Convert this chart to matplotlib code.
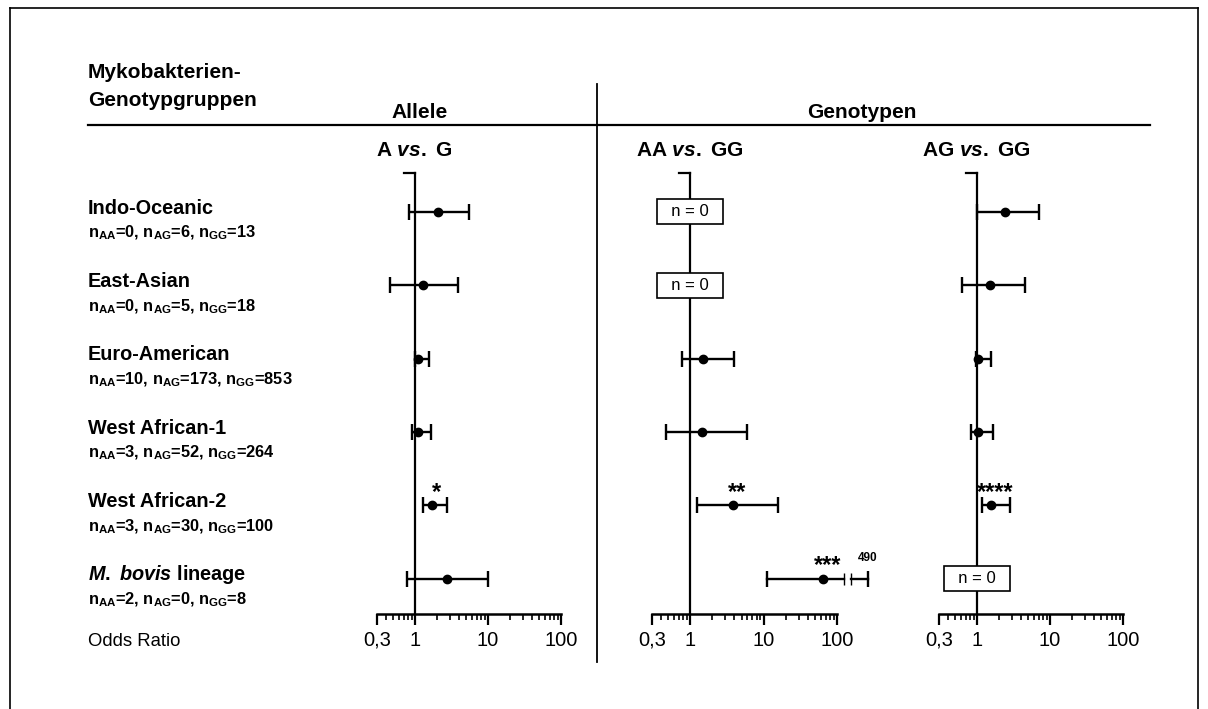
import matplotlib
matplotlib.use('Agg')
import matplotlib.pyplot as plt
from matplotlib.lines import Line2D
import numpy as np

plt.rcParams['font.family'] = ['Liberation Sans', 'DejaVu Sans']
plt.rcParams['mathtext.fontset'] = 'custom'
plt.rcParams['mathtext.rm'] = 'Liberation Sans:bold'
plt.rcParams['mathtext.bf'] = 'Liberation Sans:bold'
plt.rcParams['mathtext.it'] = 'Liberation Sans:bold:italic'
plt.rcParams['mathtext.default'] = 'regular'

# ---------------- data ----------------
groups = ['Indo-Oceanic', 'East-Asian', 'Euro-American', 'West African-1',
          'West African-2', r'$\mathit{M.}$ $\mathit{bovis}$ lineage']
n_AA = [0, 0, 10, 3, 3, 2]
n_AG = [6, 5, 173, 52, 30, 0]
n_GG = [13, 18, 853, 264, 100, 8]

nan = np.nan
# Allele A vs. G
allele_or = [2.07, 1.29, 1.10, 1.10, 1.71, 2.74]
allele_lo = [0.83, 0.45, 1.00, 0.91, 1.29, 0.78]
allele_hi = [5.5, 3.9, 1.55, 1.66, 2.74, 9.9]
allele_sig = ['', '', '', '', '*', '']
# Genotype AA vs. GG
aa_or = [nan, nan, 1.5, 1.45, 3.8, 64.6]
aa_lo = [nan, nan, 0.78, 0.46, 1.24, 11.0]
aa_hi = [nan, nan, 3.9, 5.9, 15.9, 490.0]
aa_sig = ['', '', '', '', '**', '***']
# Genotype AG vs. GG
ag_or = [2.4, 1.5, 1.03, 1.03, 1.55, nan]
ag_lo = [1.0, 0.62, 0.97, 0.83, 1.17, nan]
ag_hi = [7.0, 4.5, 1.55, 1.65, 2.8, nan]
ag_sig = ['', '', '', '', '****', '']

panel_titles = [r'A $\mathit{vs.}$ G', r'AA $\mathit{vs.}$ GG', r'AG $\mathit{vs.}$ GG']
tick_vals = [0.3, 1, 10, 100]
tick_labels = ['0,3', '1', '10', '100']

# ---------------- layout ----------------
W, H = 1208, 709
fig = plt.figure(figsize=(W / 100, H / 100), dpi=100)

def fx(x):
    return x / W

def fy(y):
    return 1 - y / H

def fline(x0, y0, x1, y1, lw=1.5):
    fig.add_artist(Line2D([fx(x0), fx(x1)], [fy(y0), fy(y1)], color='black', lw=lw,
                          transform=fig.transFigure))

# frame
fline(10, 8, 1198, 8, 1.2)
fline(10, 8, 10, 709, 1.2)
fline(1198, 8, 1198, 709, 1.2)

# headers
fig.text(fx(88), fy(73), 'Mykobakterien-', fontsize=15, fontweight='bold', va='center', ha='left')
fig.text(fx(88), fy(100), 'Genotypgruppen', fontsize=15, fontweight='bold', va='center', ha='left')
fig.text(fx(420), fy(112), 'Allele', fontsize=15, fontweight='bold', va='center', ha='center')
fig.text(fx(862), fy(112), 'Genotypen', fontsize=15, fontweight='bold', va='center', ha='center')
fline(88, 125, 1150, 125, 1.6)
fline(597, 84, 597, 662, 1.3)
fig.text(fx(88), fy(642), 'Odds Ratio', fontsize=13.3, va='center', ha='left')

row_top, row_bot = -0.53, 5.48
ax_top_px, ax_bot_px = 173, 614
row0_px, row_step_px = 212, 73.4

# row labels
for i, g in enumerate(groups):
    ypx = row0_px + i * row_step_px
    fig.text(fx(88), fy(ypx - 4), g, fontsize=14.3, fontweight='bold', va='center', ha='left')
    nl = r'n$_{AA}$=%d, n$_{AG}$=%d, n$_{GG}$=%d' % (n_AA[i], n_AG[i], n_GG[i])
    fig.text(fx(88), fy(ypx + 21), nl, fontsize=11.8, fontweight='bold', va='center', ha='left')

panel_x = [(377, 561), (652, 837), (939, 1123)]
title_cx = [414, 690, 976]
panel_data = [(allele_or, allele_lo, allele_hi, allele_sig),
              (aa_or, aa_lo, aa_hi, aa_sig),
              (ag_or, ag_lo, ag_hi, ag_sig)]
minor = [0.4, 0.5, 0.6, 0.7, 0.8, 0.9] + list(range(2, 10)) + list(range(20, 100, 10))

for p, ((x0, x1), (orv, lo, hi, sig), title) in enumerate(zip(panel_x, panel_data, panel_titles)):
    ax = fig.add_axes([fx(x0), fy(ax_bot_px), (x1 - x0) / W, (ax_bot_px - ax_top_px) / H])
    ax.set_xscale('log')
    ax.set_xlim(0.3, 100)
    ax.set_ylim(row_bot, row_top)
    for s in ['top', 'right', 'left']:
        ax.spines[s].set_visible(False)
    ax.spines['bottom'].set_linewidth(1.8)
    ax.set_yticks([])
    ax.set_xticks(tick_vals)
    ax.set_xticklabels(tick_labels, fontsize=14.5)
    ax.set_xticks(minor, minor=True)
    ax.xaxis.set_minor_formatter(plt.NullFormatter())
    ax.tick_params(axis='x', which='major', direction='out', length=8, width=1.6, pad=4)
    ax.tick_params(axis='x', which='minor', direction='out', length=4, width=1.2)
    ax.patch.set_alpha(0)

    # reference line at OR = 1 with small top hook
    ax.plot([1, 1], [row_top, row_bot], color='black', lw=1.6, clip_on=False, zorder=1)
    ax.plot([0.71, 1], [row_top, row_top], color='black', lw=1.6, clip_on=False, zorder=1)

    fig.text(fx(title_cx[p]), fy(150), title, fontsize=15, fontweight='bold',
             va='center', ha='center')

    for i in range(len(orv)):
        if np.isnan(orv[i]):
            ax.text(1, i, '  n = 0  ', ha='center', va='center', fontsize=12, zorder=5,
                    bbox=dict(boxstyle='square,pad=0.3', fc='white', ec='black', lw=1.2))
            continue
        if hi[i] <= 100:
            ax.errorbar([orv[i]], [i], xerr=[[orv[i] - lo[i]], [hi[i] - orv[i]]], fmt='o',
                        color='black', ms=6, elinewidth=1.7, capsize=6, capthick=1.7,
                        clip_on=False, zorder=3)
        else:
            # broken axis for very wide CI
            brk_a, brk_b, end = 124, 155, 263
            ax.plot([lo[i], brk_a], [i, i], color='black', lw=1.7, clip_on=False, zorder=3)
            ax.plot([brk_b, end], [i, i], color='black', lw=1.7, clip_on=False, zorder=3)
            ax.plot([lo[i], end], [i, i], ls='none', marker='|', ms=12, mew=1.7,
                    color='black', clip_on=False, zorder=3)
            ax.plot([brk_a, brk_b], [i, i], ls='none', marker='|', ms=8, mew=1.0,
                    color='black', clip_on=False, zorder=3)
            ax.plot([orv[i]], [i], 'o', color='black', ms=6, clip_on=False, zorder=4)
            ax.annotate('%g' % hi[i], (end, i), xytext=(0, 15), textcoords='offset points',
                        ha='center', va='center', fontsize=8.5, fontweight='bold',
                        annotation_clip=False)
        if sig[i]:
            ax.annotate(sig[i], (orv[i], i), xytext=(3, 9.5), textcoords='offset points',
                        ha='center', va='center', fontsize=17, fontweight='bold',
                        annotation_clip=False)

fig.savefig('out.png', dpi=100)
